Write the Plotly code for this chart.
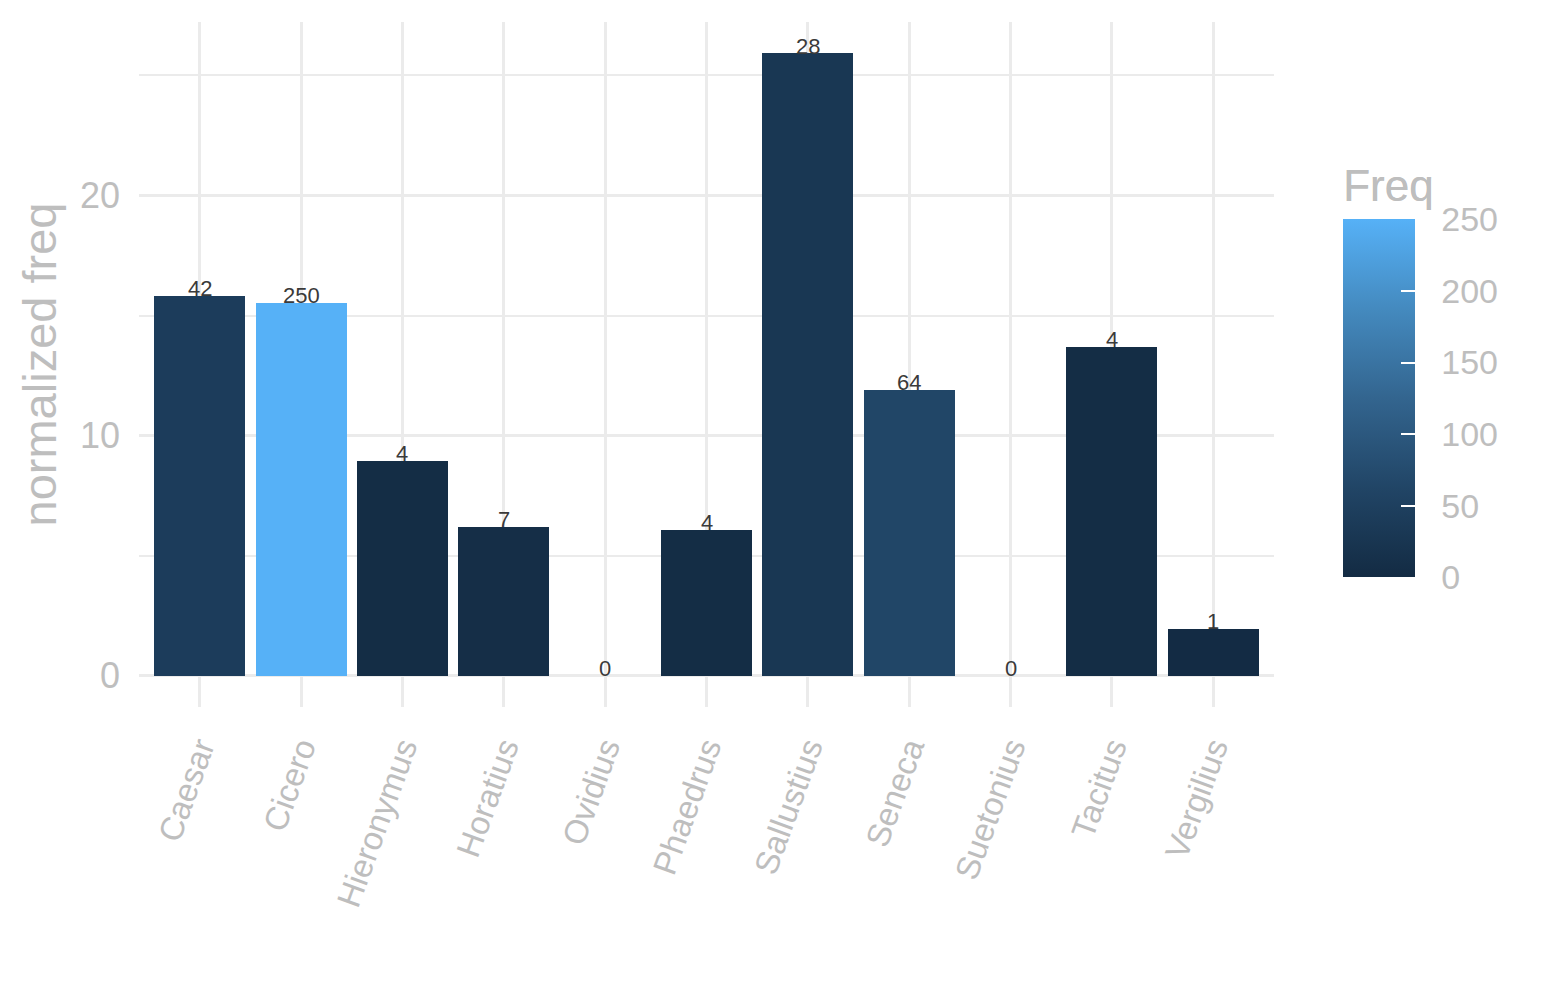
import plotly.graph_objects as go

authors = ["Caesar", "Cicero", "Hieronymus", "Horatius", "Ovidius", "Phaedrus",
           "Sallustius", "Seneca", "Suetonius", "Tacitus", "Vergilius"]
norm_freq = [15.83, 15.54, 8.96, 6.21, 0, 6.08, 25.92, 11.92, 0, 13.71, 1.96]
freq = [42, 250, 4, 7, 0, 4, 28, 64, 0, 4, 1]
freq_ticks = [0, 50, 100, 150, 200, 250]

grey = "#BEBEBE"
grid = "#EBEBEB"
font = "Liberation Sans"

# ggplot-like gradient, a few stops to mimic Lab interpolation
scale = [[0.0, "#132B43"], [0.25, "#214566"], [0.5, "#33658F"], [0.75, "#448ABF"], [1.0, "#56B1F7"]]
clear = [[0.0, "rgba(0,0,0,0)"], [1.0, "rgba(0,0,0,0)"]]


def colorbar(**kw):
    cb = dict(
        title=dict(text="Freq", side="top", font=dict(size=44, color=grey, family=font)),
        x=1.061, xanchor="left",
        y=0.49, yanchor="middle",
        thickness=72,
        len=412, lenmode="pixels",
        outlinewidth=0,
        tickvals=freq_ticks,
        tickfont=dict(size=34, color=grey, family=font),
        xpad=0, ypad=0,
    )
    cb.update(kw)
    return cb


fig = go.Figure()

# bars + colour bar with the white inside ticks
fig.add_trace(go.Bar(
    x=authors,
    y=norm_freq,
    width=0.9,
    marker=dict(
        color=freq, colorscale=scale, cmin=0, cmax=250,
        line=dict(width=0),
        colorbar=colorbar(ticks="inside", ticklen=14, tickcolor="white", tickwidth=1.5,
                          showticklabels=False),
    ),
    hoverinfo="skip",
))

# transparent copy of the scale, only to place the tick labels a bit away from the bar
fig.add_trace(go.Scatter(
    x=authors,
    y=norm_freq,
    mode="markers",
    marker=dict(
        size=1, opacity=0,
        color=freq, colorscale=clear, cmin=0, cmax=250, showscale=True,
        colorbar=colorbar(ticks="outside", ticklen=20, tickcolor="rgba(0,0,0,0)"),
    ),
    hoverinfo="skip",
))

# count labels sitting on top of each bar
for a, v, f in zip(authors, norm_freq, freq):
    fig.add_annotation(
        x=a, y=v, text=str(f), showarrow=False,
        yanchor="middle", yshift=7,
        font=dict(size=22, color="#3A3A3A", family=font),
    )

fig.update_layout(
    width=1545,
    height=1000,
    plot_bgcolor="white",
    paper_bgcolor="white",
    showlegend=False,
    bargap=0,
    margin=dict(l=131, r=279, t=14, b=301),
    font=dict(family=font, color=grey),
)

fig.update_xaxes(
    range=[-0.6, 10.6],
    showgrid=True, gridcolor=grid, gridwidth=3,
    zeroline=False, showline=False,
    tickangle=-70,
    tickfont=dict(size=33, color=grey, family=font),
    ticks="", ticklabelstandoff=14,
)

fig.update_yaxes(
    range=[-1.296, 27.22],
    dtick=10,
    showgrid=True, gridcolor=grid, gridwidth=3,
    minor=dict(dtick=5, showgrid=True, gridcolor=grid, gridwidth=1.5),
    zeroline=False, showline=False,
    tickfont=dict(size=36, color=grey, family=font),
    ticklabelstandoff=18,
    title=dict(text="normalized freq", font=dict(size=47, color=grey, family=font), standoff=8),
)

fig.write_html("out.html")
